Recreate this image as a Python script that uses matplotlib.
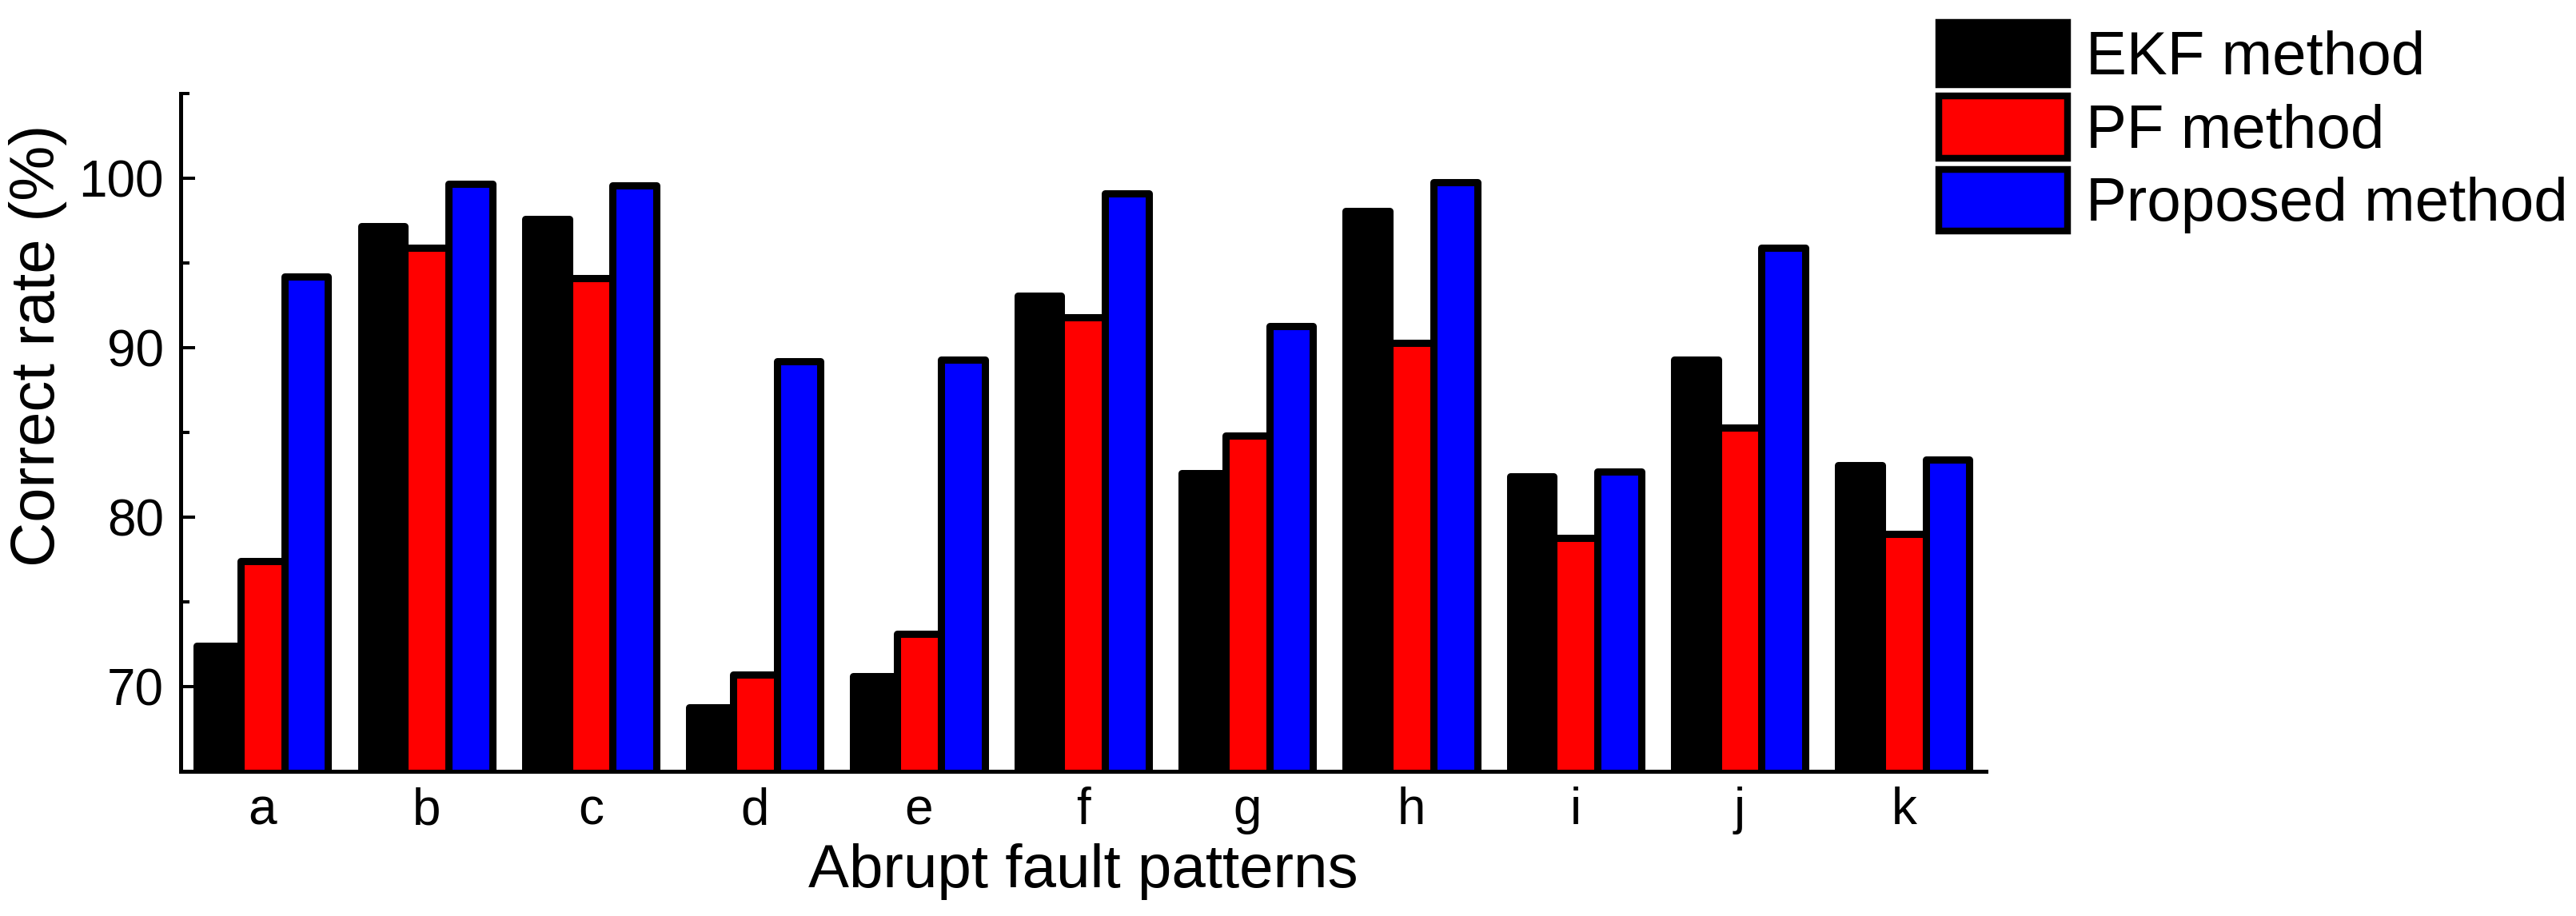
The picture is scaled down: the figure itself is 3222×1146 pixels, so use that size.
import matplotlib
matplotlib.use("Agg")
import matplotlib.pyplot as plt
import numpy as np
from matplotlib.ticker import MultipleLocator
from matplotlib.patches import Patch

plt.rcParams['font.family'] = ['Liberation Sans', 'DejaVu Sans']

categories = ['a', 'b', 'c', 'd', 'e', 'f', 'g', 'h', 'i', 'j', 'k']
ekf = [72.4, 97.2, 97.6, 68.8, 70.6, 93.1, 82.6, 98.1, 82.4, 89.3, 83.1]
pf = [77.4, 95.9, 94.1, 70.7, 73.1, 91.8, 84.8, 90.3, 78.8, 85.3, 79.0]
proposed = [94.2, 99.7, 99.6, 89.2, 89.3, 99.1, 91.3, 99.8, 82.7, 95.9, 83.4]
series_names = ['EKF method', 'PF method', 'Proposed method']
series_colors = ['#000000', '#ff0000', '#0000ff']

fig = plt.figure(figsize=(32.22, 11.46), dpi=100)
ax = fig.add_axes([0.07005, 0.1579, 0.7009, 0.7396])

x = np.arange(len(categories))
w = 0.8 / 3
for i, (vals, col, name) in enumerate(zip([ekf, pf, proposed], series_colors, series_names)):
    ax.bar(x + (i - 1) * w, vals, width=w, color=col, edgecolor='black',
           linewidth=6.5, joinstyle='round', label=name, zorder=2)

ax.set_ylim(65, 105)
ax.set_xlim(-0.5, 10.5)
ax.set_xticks(x)
ax.set_xticklabels(categories)
ax.set_yticks([70, 80, 90, 100])
ax.yaxis.set_minor_locator(MultipleLocator(5))

for s in ['top', 'right']:
    ax.spines[s].set_visible(False)
for s in ['left', 'bottom']:
    ax.spines[s].set_linewidth(3.6)
    ax.spines[s].set_zorder(3)

ax.tick_params(axis='both', which='major', direction='in', length=13, width=2.9,
               labelsize=46)
ax.tick_params(axis='y', which='minor', direction='in', length=8, width=2.9)
ax.tick_params(axis='x', which='major', pad=14)
ax.tick_params(axis='y', which='major', pad=15)

ax.set_xlabel('Abrupt fault patterns', fontsize=55, va='center')
ax.xaxis.set_label_coords(0.5, -0.1475)
ax.set_ylabel('Correct rate (%)', fontsize=56, va='center')
ax.yaxis.set_label_coords(-0.079, 0.629)

handles = [Patch(facecolor=c, edgecolor='black', linewidth=6.1, joinstyle='round')
           for c in series_colors]
fig.legend(handles, series_names, loc='upper left', bbox_to_anchor=(0.7527, 0.9753),
           frameon=False, fontsize=55, handlelength=2.10, handleheight=1.183,
           handletextpad=0.3, labelspacing=0.147, borderpad=0, borderaxespad=0)

fig.savefig('out.png', dpi=100, facecolor='white')
